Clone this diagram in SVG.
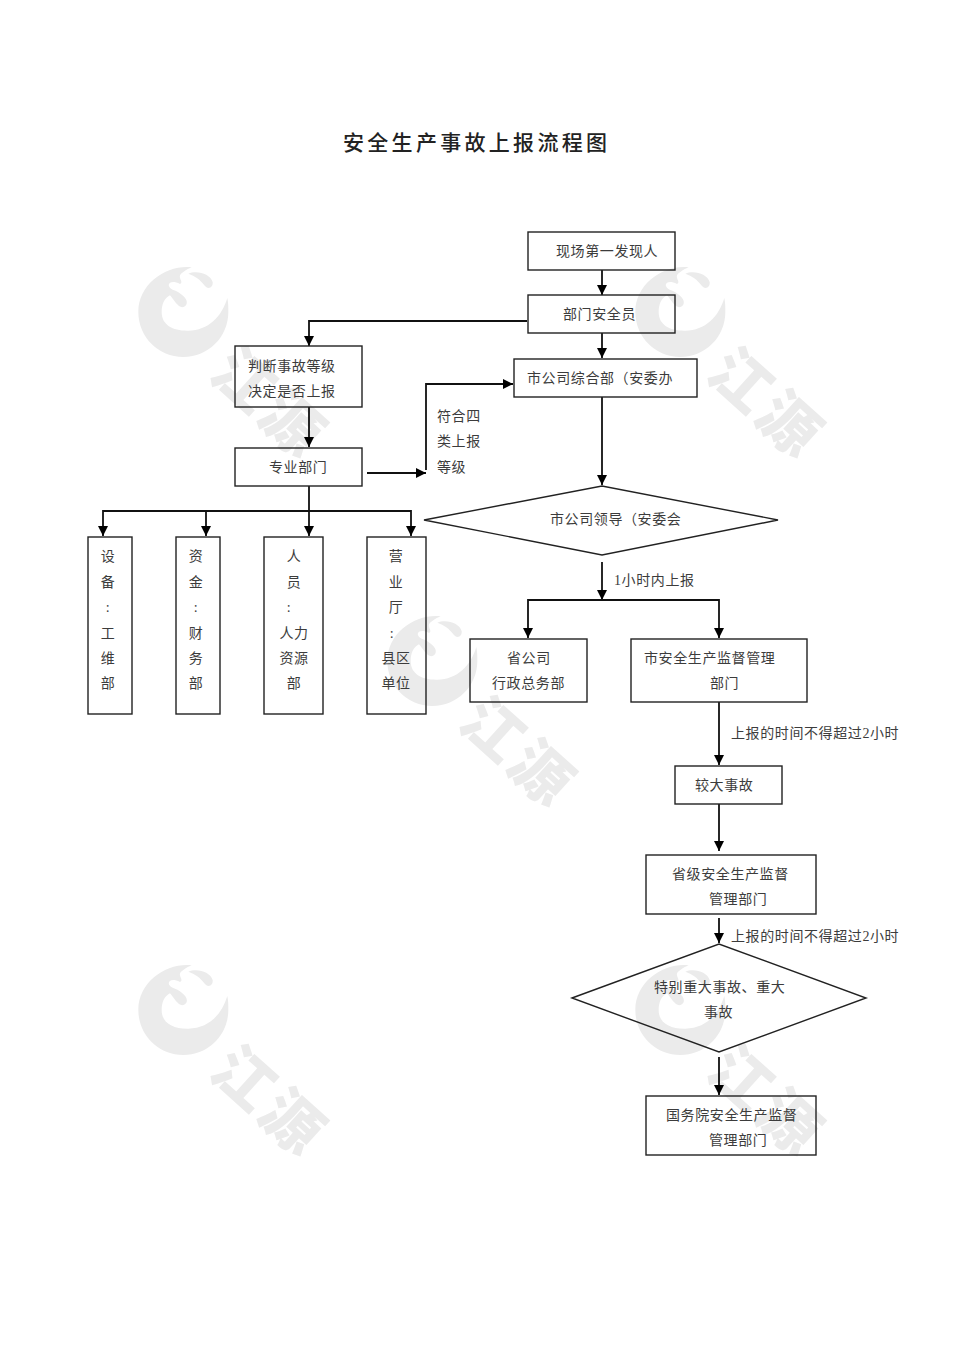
<svg xmlns="http://www.w3.org/2000/svg" width="970" height="1371" viewBox="0 0 970 1371">
<style>
.b{fill:none;stroke:#222;stroke-width:1.4}
.c{fill:none;stroke:#111;stroke-width:1.8;marker-end:url(#a)}
.l{fill:none;stroke:#111;stroke-width:1.8}
text{font-family:"Liberation Serif","Noto Sans CJK SC",sans-serif;font-size:14px;fill:#3c3c3c;letter-spacing:.6px}
.m{text-anchor:middle}
.t{font-size:21px;letter-spacing:3.3px;fill:#222;font-weight:500}
.w{fill:#ebebeb;stroke:none}
.wt{font-family:"Noto Sans CJK SC",sans-serif;font-size:60px;font-weight:900;fill:#ebebeb;letter-spacing:5px}
</style>
<defs>
<marker id="a" markerUnits="userSpaceOnUse" markerWidth="12" markerHeight="12" refX="10" refY="5.500" orient="auto"><path d="M0 0.500L10 5.500L0 10.500Z" fill="#000"/></marker>
<g id="wm">
<g transform="translate(-8 -6) scale(.3333)">
<path class="w" d="M185 16C110 8 25 65 25 150C25 225 85 285 160 285C235 285 295 225 295 150C295 135 295 122 292 108C275 165 235 205 175 206C130 207 95 190 95 150C95 128 103 108 120 100C135 118 150 148 168 130C180 112 150 90 128 83C105 72 118 50 150 66C165 58 135 45 160 30C168 24 176 20 185 16Z"/>
<path class="w" d="M175 35C200 24 240 34 248 60C250 76 235 84 225 72C210 52 195 42 175 35Z"/>
</g>
<text class="wt" transform="translate(69 108) rotate(42)">江源</text>
</g>
</defs>
<g id="watermarks">
<use href="#wm" x="138" y="268"/>
<use href="#wm" x="635" y="268"/>
<use href="#wm" x="387" y="617"/>
<use href="#wm" x="138" y="966"/>
<use href="#wm" x="635" y="966"/>
</g>
<text id="title" class="t" x="343" y="150">安全生产事故上报流程图</text>
<g id="connectors">
<path class="c" d="M602 270V295"/>
<path class="c" d="M602 333V358"/>
<path class="c" d="M527 321H309V346"/>
<path class="c" d="M309 407V447"/>
<path class="c" d="M367 473H426"/>
<path class="c" d="M426 470V384H513"/>
<path class="c" d="M602 397V485"/>
<path class="l" d="M309 486V511"/>
<path class="c" d="M309 511H103V536"/>
<path class="c" d="M206 511V536"/>
<path class="c" d="M309 511V536"/>
<path class="c" d="M309 511H411V536"/>
<path class="c" d="M602 562V600"/>
<path class="c" d="M602 600H528V638"/>
<path class="c" d="M602 600H719V638"/>
<path class="c" d="M719 702V765"/>
<path class="c" d="M719 804V851"/>
<path class="c" d="M719 918V943"/>
<path class="c" d="M719 1057V1095"/>
</g>
<g id="n1"><rect class="b" x="528" y="232" width="147" height="38"/><text x="556" y="256">现场第一发现人</text></g>
<g id="n2"><rect class="b" x="528" y="295" width="147" height="38"/><text x="563" y="319">部门安全员</text></g>
<g id="n3"><rect class="b" x="514" y="359" width="183" height="38"/><text x="527" y="383">市公司综合部（安委办</text></g>
<g id="n4"><rect class="b" x="235" y="346" width="127" height="61"/><text x="248" y="371">判断事故等级</text><text x="248" y="396">决定是否上报</text></g>
<g id="n5"><rect class="b" x="235" y="448" width="127" height="38"/><text x="269" y="472">专业部门</text></g>
<g id="lbl-fh"><text x="437" y="421">符合四</text><text x="437" y="446">类上报</text><text x="437" y="472">等级</text></g>
<g id="n6"><path class="b" d="M424 520L602 486L778 520L602 555Z"/><text x="550" y="524">市公司领导（安委会</text></g>
<g id="v1"><rect class="b" x="88" y="537" width="44" height="177"/><text class="m" x="108" y="561">设</text><text class="m" x="108" y="587">备</text><text class="m" x="108" y="612">:</text><text class="m" x="108" y="638">工</text><text class="m" x="108" y="663">维</text><text class="m" x="108" y="688">部</text></g>
<g id="v2"><rect class="b" x="176" y="537" width="44" height="177"/><text class="m" x="196" y="561">资</text><text class="m" x="196" y="587">金</text><text class="m" x="196" y="612">:</text><text class="m" x="196" y="638">财</text><text class="m" x="196" y="663">务</text><text class="m" x="196" y="688">部</text></g>
<g id="v3"><rect class="b" x="264" y="537" width="59" height="177"/><text class="m" x="294" y="561">人</text><text class="m" x="294" y="587">员</text><text class="m" x="289" y="612">:</text><text class="m" x="294" y="638">人力</text><text class="m" x="294" y="663">资源</text><text class="m" x="294" y="688">部</text></g>
<g id="v4"><rect class="b" x="367" y="537" width="59" height="177"/><text class="m" x="396" y="561">营</text><text class="m" x="396" y="587">业</text><text class="m" x="396" y="612">厅</text><text class="m" x="392" y="638">:</text><text class="m" x="396" y="663">县区</text><text class="m" x="396" y="688">单位</text></g>
<g id="lbl-1h"><text x="614" y="585">1小时内上报</text></g>
<g id="n7"><rect class="b" x="470" y="639" width="117" height="63"/><text x="507" y="663">省公司</text><text x="492" y="688">行政总务部</text></g>
<g id="n8"><rect class="b" x="631" y="639" width="176" height="63"/><text x="644" y="663">市安全生产监督管理</text><text x="710" y="688">部门</text></g>
<g id="lbl-2h1"><text x="731" y="738">上报的时间不得超过2小时</text></g>
<g id="n9"><rect class="b" x="675" y="766" width="107" height="38"/><text x="695" y="790">较大事故</text></g>
<g id="n10"><rect class="b" x="646" y="855" width="170" height="59"/><text x="672" y="879">省级安全生产监督</text><text x="709" y="904">管理部门</text></g>
<g id="lbl-2h2"><text x="731" y="941">上报的时间不得超过2小时</text></g>
<g id="n11"><path class="b" d="M572 998L719 944L866 998L719 1052Z"/><text x="654" y="992">特别重大事故、重大</text><text x="704" y="1017">事故</text></g>
<g id="n12"><rect class="b" x="646" y="1096" width="170" height="59"/><text x="666" y="1120">国务院安全生产监督</text><text x="709" y="1145">管理部门</text></g>
</svg>
